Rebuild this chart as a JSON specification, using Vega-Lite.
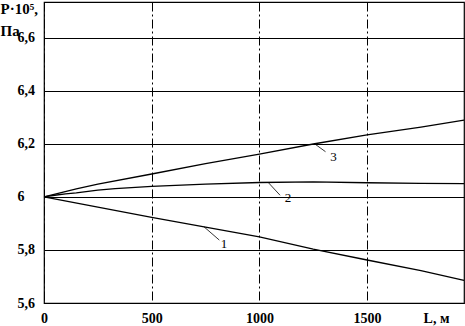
{
  "$schema": "https://vega.github.io/schema/vega-lite/v6.json",
  "width": 420,
  "height": 301,
  "autosize": {"type": "none"},
  "padding": {"left": 44, "top": 2, "right": 1, "bottom": 23},
  "background": "white",
  "config": {
    "view": {"stroke": "black", "strokeWidth": 1.2},
    "font": "Liberation Serif",
    "axisX": {
      "grid": true, "gridColor": "black", "gridDash": [9, 3, 2, 3], "gridWidth": 1, "gridOpacity": 1,
      "ticks": false, "domain": false,
      "labelFont": "Liberation Serif", "labelFontSize": 14, "labelFontWeight": "bold", "labelColor": "black",
      "labelPadding": 8, "labelFlush": false,
      "titleFont": "Liberation Serif", "titleFontSize": 14, "titleFontWeight": "bold", "titleColor": "black",
      "titleX": 392, "titleY": 8, "titleAlign": "center", "titleBaseline": "top"
    },
    "axisY": {
      "grid": true, "gridColor": "black", "gridWidth": 1, "gridOpacity": 1,
      "ticks": false, "domain": false,
      "labelFont": "Liberation Serif", "labelFontSize": 14, "labelFontWeight": "bold", "labelColor": "black",
      "labelAlign": "left", "labelBaseline": "middle", "labelPadding": 27, "labelFlush": false,
      "titleFont": "Liberation Serif", "titleFontSize": 15, "titleFontWeight": "bold", "titleColor": "black",
      "titleAngle": 0, "titleAlign": "left", "titleBaseline": "top", "titleX": -44, "titleY": -1, "titleLineHeight": 22
    }
  },
  "datasets": {
    "curves": [
      {"curve": "1", "L": 0, "P": 6.0},
      {"curve": "1", "L": 250, "P": 5.961},
      {"curve": "1", "L": 500, "P": 5.923},
      {"curve": "1", "L": 750, "P": 5.886},
      {"curve": "1", "L": 1000, "P": 5.849},
      {"curve": "1", "L": 1250, "P": 5.803},
      {"curve": "1", "L": 1500, "P": 5.762},
      {"curve": "1", "L": 1750, "P": 5.722},
      {"curve": "1", "L": 1950, "P": 5.685},
      {"curve": "2", "L": 0, "P": 6.0},
      {"curve": "2", "L": 50, "P": 6.006},
      {"curve": "2", "L": 100, "P": 6.011},
      {"curve": "2", "L": 150, "P": 6.015},
      {"curve": "2", "L": 250, "P": 6.025},
      {"curve": "2", "L": 330, "P": 6.031},
      {"curve": "2", "L": 500, "P": 6.039},
      {"curve": "2", "L": 750, "P": 6.048},
      {"curve": "2", "L": 1000, "P": 6.054},
      {"curve": "2", "L": 1250, "P": 6.056},
      {"curve": "2", "L": 1500, "P": 6.053},
      {"curve": "2", "L": 1750, "P": 6.051},
      {"curve": "2", "L": 1950, "P": 6.05},
      {"curve": "3", "L": 0, "P": 6.0},
      {"curve": "3", "L": 150, "P": 6.03},
      {"curve": "3", "L": 250, "P": 6.048},
      {"curve": "3", "L": 500, "P": 6.086},
      {"curve": "3", "L": 750, "P": 6.125},
      {"curve": "3", "L": 1000, "P": 6.161},
      {"curve": "3", "L": 1250, "P": 6.199},
      {"curve": "3", "L": 1500, "P": 6.233},
      {"curve": "3", "L": 1750, "P": 6.263},
      {"curve": "3", "L": 1950, "P": 6.289}
    ],
    "leaders": [
      {"label": "1", "L": 743, "P": 5.887, "L2": 814, "P2": 5.837, "LL": 836, "PL": 5.822},
      {"label": "2", "L": 1040, "P": 6.055, "L2": 1096, "P2": 6.006, "LL": 1133, "PL": 5.995},
      {"label": "3", "L": 1256, "P": 6.2, "L2": 1307, "P2": 6.17, "LL": 1344, "PL": 6.151}
    ]
  },
  "layer": [
    {
      "data": {"name": "curves"},
      "mark": {"type": "line", "color": "black", "strokeWidth": 1.3},
      "encoding": {
        "x": {
          "field": "L", "type": "quantitative", "title": "L, м",
          "scale": {"domain": [0, 1950], "nice": false, "zero": false},
          "axis": {"values": [0, 500, 1000, 1500], "format": "d"}
        },
        "y": {
          "field": "P", "type": "quantitative", "title": ["P·10⁵,", "Па"],
          "scale": {"domain": [5.6, 6.734], "nice": false, "zero": false},
          "axis": {
            "values": [5.6, 5.8, 6.0, 6.2, 6.4, 6.6],
            "labelExpr": "datum.value == 6 ? '6' : replace(format(datum.value, '.1f'), '.', ',')"
          }
        },
        "detail": {"field": "curve"}
      }
    },
    {
      "data": {"name": "leaders"},
      "mark": {"type": "rule", "color": "black", "strokeWidth": 0.8},
      "encoding": {
        "x": {"field": "L", "type": "quantitative", "title": "L, м"},
        "y": {"field": "P", "type": "quantitative", "title": ["P·10⁵,", "Па"]},
        "x2": {"field": "L2"},
        "y2": {"field": "P2"}
      }
    },
    {
      "data": {"name": "leaders"},
      "mark": {"type": "text", "font": "Liberation Serif", "fontSize": 13, "color": "black", "align": "center", "baseline": "middle"},
      "encoding": {
        "x": {"field": "LL", "type": "quantitative", "title": "L, м"},
        "y": {"field": "PL", "type": "quantitative", "title": ["P·10⁵,", "Па"]},
        "text": {"field": "label"}
      }
    }
  ]
}
